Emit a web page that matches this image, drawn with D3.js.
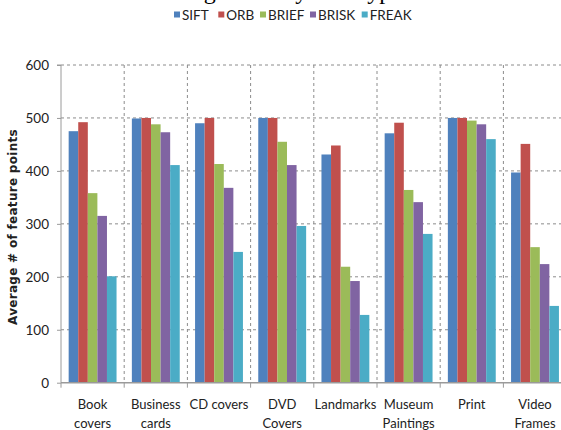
<!DOCTYPE html>
<html>
<head>
<meta charset="utf-8">
<script src="https://cdn.jsdelivr.net/npm/d3@7"></script>
<style>
  html, body { margin: 0; padding: 0; background: #fff; }
  svg { display: block; }
</style>
</head>
<body>
<svg id="chart" width="561" height="430"></svg>
<script>
const categories = ["Book covers", "Business cards", "CD covers", "DVD Covers", "Landmarks", "Museum Paintings", "Print", "Video Frames"];
const categoryLines = [["Book", "covers"], ["Business", "cards"], ["CD covers"], ["DVD", "Covers"], ["Landmarks"], ["Museum", "Paintings"], ["Print"], ["Video", "Frames"]];
const seriesNames = ["SIFT", "ORB", "BRIEF", "BRISK", "FREAK"];
const SIFT  = [475, 499, 490, 500, 431, 471, 500, 397];
const ORB   = [492, 500, 500, 500, 448, 491, 500, 451];
const BRIEF = [358, 488, 413, 455, 219, 364, 495, 256];
const BRISK = [315, 473, 368, 411, 192, 341, 488, 224];
const FREAK = [201, 411, 247, 296, 128, 281, 460, 145];
const yTicks = [0, 100, 200, 300, 400, 500, 600];
const colors = ["#4F81BD", "#C0504D", "#9BBB59", "#8064A2", "#4BACC6"];

(function () {
const seriesValues = [SIFT, ORB, BRIEF, BRISK, FREAK];
const svg = d3.select("#chart");
const font = "Lato, 'Open Sans', sans-serif";

const left = 61, plotTop = 65, plotBottom = 382.7, step = 63.2;
const x = d3.scaleBand().domain(categories).range([left, left + step * categories.length]).padding(0);
const xs = d3.scaleBand().domain(seriesNames).range([0, x.bandwidth()]).paddingInner(0).paddingOuter(0.8);
const y = d3.scaleLinear().domain([0, 600]).range([plotBottom, plotTop]);

// title (mostly cropped off the top edge, as in the reference)
svg.append("text").attr("x", 147).attr("y", -1).attr("text-anchor", "start")
  .style("font-family", "'Liberation Serif', 'Times New Roman', serif").style("font-size", "24px")
  .attr("fill", "#000")
  .text("Average Density of Keypoints");

// horizontal gridlines
svg.append("g").selectAll("line").data(yTicks.filter(d => d > 0)).join("line")
  .attr("x1", left).attr("x2", 561).attr("y1", d => y(d)).attr("y2", d => y(d))
  .attr("stroke", "#8c8c8c").attr("stroke-width", 1).attr("stroke-dasharray", "3,3");

// vertical gridlines
svg.append("g").selectAll("line").data(categories.slice(1)).join("line")
  .attr("x1", d => x(d)).attr("x2", d => x(d)).attr("y1", plotTop).attr("y2", plotBottom)
  .attr("stroke", "#8c8c8c").attr("stroke-width", 1).attr("stroke-dasharray", "3,3");

// bars
const groups = svg.append("g").selectAll("g").data(categories).join("g")
  .attr("transform", d => `translate(${x(d)},0)`);
groups.selectAll("rect").data((c, i) => seriesNames.map((s, j) => ({s, j, v: seriesValues[j][i]}))).join("rect")
  .attr("x", d => xs(d.s)).attr("width", xs.bandwidth())
  .attr("y", d => y(d.v)).attr("height", d => y(0) - y(d.v))
  .attr("fill", d => colors[d.j]);

// y axis
const yAxis = d3.axisLeft(y).tickValues(yTicks).tickSize(4).tickPadding(8);
const gy = svg.append("g").attr("transform", `translate(${left},0)`).call(yAxis);
gy.select(".domain").attr("stroke", "#9a9a9a").attr("d", `M-4,${plotTop}H0V${plotBottom}`);
gy.selectAll(".tick line").attr("stroke", "#9a9a9a");
gy.selectAll(".tick text").style("font-family", font).style("font-size", "13.5px").attr("fill", "#222");

// x axis
const gx = svg.append("g").attr("transform", `translate(0,${plotBottom})`);
gx.append("line").attr("x1", left).attr("x2", 561).attr("y1", 0).attr("y2", 0).attr("stroke", "#9a9a9a").attr("stroke-width", 1.5);
gx.selectAll("line.t").data(categories).join("line").attr("class", "t")
  .attr("x1", d => x(d)).attr("x2", d => x(d)).attr("y1", 0).attr("y2", 5).attr("stroke", "#9a9a9a");
gx.selectAll("text.c").data(categories).join("text").attr("class", "c")
  .attr("x", d => x(d) + x.bandwidth() / 2).attr("y", 26.5)
  .attr("text-anchor", "middle").style("font-family", font).style("font-size", "13px").attr("fill", "#222")
  .each(function(d, i) {
    const t = d3.select(this);
    categoryLines[i].forEach((ln, k) => {
      t.append("tspan").attr("x", x(d) + x.bandwidth() / 2).attr("dy", k === 0 ? 0 : 19).text(ln);
    });
  });

// y axis title
svg.append("text").attr("transform", `translate(17,227) rotate(-90)`)
  .attr("text-anchor", "middle").style("font-family", "'DejaVu Sans', Verdana, sans-serif")
  .style("font-size", "12px").style("font-weight", "bold").style("letter-spacing", "0.3px").attr("fill", "#222")
  .text("Average # of feature points");

// legend
const legendX = [174, 218.3, 260, 310, 361.7];
const lg = svg.append("g").selectAll("g").data(seriesNames).join("g")
  .attr("transform", (d, i) => `translate(${legendX[i]},0)`);
lg.append("rect").attr("x", 0).attr("y", 11.5).attr("width", 6).attr("height", 6).attr("fill", (d, i) => colors[i]);
lg.append("text").attr("x", 8).attr("y", 19.5).style("font-family", font).style("font-size", "13.5px").attr("fill", "#222").text(d => d);
})();
</script>
</body>
</html>
